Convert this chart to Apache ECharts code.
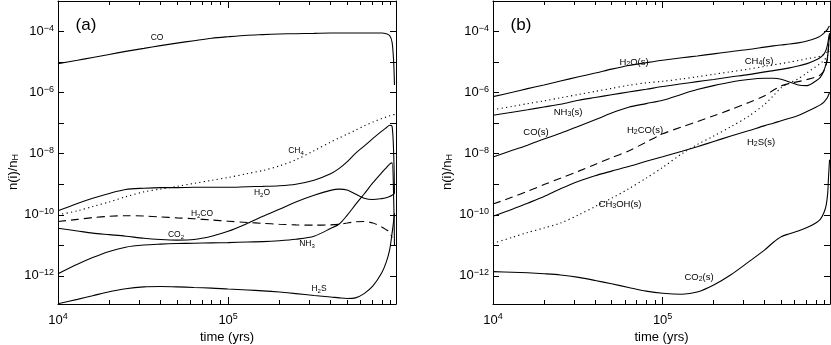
<!DOCTYPE html>
<html>
<head>
<meta charset="utf-8">
<script src="https://cdn.jsdelivr.net/npm/echarts@6/dist/echarts.min.js"></script>
<style>
  html, body { margin: 0; padding: 0; background: #fff; }
  #chart { width: 831px; height: 345px; }
</style>
</head>
<body>
<div id="chart"></div>
<script>
// time grid (yrs), shared by both panels
const times = [1.0e4, 1.3e4, 1.6e4, 2.0e4, 2.5e4, 3.2e4, 4.0e4, 5.0e4, 6.3e4, 8.0e4,
  1.0e5, 1.3e5, 1.6e5, 2.0e5, 2.5e5, 3.2e5, 4.0e5, 4.5e5, 5.0e5, 5.6e5,
  6.3e5, 7.1e5, 8.0e5, 8.5e5, 8.9e5, 9.2e5, 9.4e5, 9.5e5, 9.64e5];

// log10 n(i)/nH
// (a) gas phase
const coA   = [-5.05,-4.94,-4.85,-4.75,-4.65,-4.55,-4.46,-4.38,-4.30,-4.22,-4.17,-4.12,-4.10,-4.08,-4.07,-4.06,-4.05,-4.05,-4.05,-4.05,-4.05,-4.05,-4.05,-4.07,-4.13,-4.35,-5.0,-5.75,null];
const ch4A  = [-10.0,-9.87,-9.73,-9.58,-9.41,-9.25,-9.16,-9.07,-8.97,-8.87,-8.78,-8.65,-8.55,-8.40,-8.20,-7.90,-7.62,-7.48,-7.36,-7.23,-7.09,-6.96,-6.85,-6.80,-6.76,-6.73,-6.72,-6.72,null];
const h2oA  = [-9.87,-9.63,-9.46,-9.30,-9.17,-9.13,-9.11,-9.11,-9.10,-9.10,-9.10,-9.08,-9.07,-9.05,-9.00,-8.87,-8.66,-8.48,-8.27,-7.99,-7.75,-7.50,-7.26,-7.15,-7.07,-7.10,-8.0,-9.3,null];
const co2A  = [-10.44,-10.53,-10.60,-10.65,-10.70,-10.77,-10.81,-10.83,-10.81,-10.70,-10.54,-10.28,-10.05,-9.82,-9.58,-9.36,-9.20,-9.16,-9.19,-9.32,-9.46,-9.50,-9.47,-9.44,-9.40,-9.36,-9.32,-9.30,null];
const nh3A  = [-11.93,-11.62,-11.40,-11.20,-11.06,-10.99,-10.96,-10.94,-10.93,-10.92,-10.91,-10.89,-10.88,-10.85,-10.80,-10.70,-10.45,-10.30,-10.02,-9.67,-9.32,-8.95,-8.62,-8.46,-8.34,-8.30,-9.5,-11.0,null];
const h2coA = [-10.22,-10.15,-10.09,-10.05,-10.03,-10.04,-10.07,-10.10,-10.13,-10.17,-10.21,-10.25,-10.28,-10.31,-10.33,-10.34,-10.33,-10.31,-10.27,-10.23,-10.22,-10.27,-10.40,-10.49,-10.57,-10.75,null,null,null];
const h2sA  = [-12.91,-12.77,-12.65,-12.52,-12.42,-12.36,-12.35,-12.36,-12.38,-12.40,-12.43,-12.46,-12.49,-12.53,-12.58,-12.64,-12.69,-12.72,-12.74,-12.72,-12.58,-12.33,-11.90,-11.55,-11.15,-10.6,-10.2,-9.95,null];

// (b) grain mantles
const h2oB   = [-6.13,-5.99,-5.87,-5.75,-5.62,-5.48,-5.36,-5.23,-5.11,-5.02,-4.94,-4.86,-4.80,-4.73,-4.66,-4.59,-4.51,-4.47,-4.44,-4.41,-4.37,-4.31,-4.22,-4.15,-4.06,-3.98,-3.92,-3.86,-3.82];
const ch4B   = [-6.56,-6.45,-6.36,-6.27,-6.17,-6.06,-5.96,-5.86,-5.76,-5.68,-5.63,-5.55,-5.48,-5.40,-5.32,-5.23,-5.14,-5.09,-5.05,-5.00,-4.95,-4.89,-4.84,-4.80,-4.75,-4.70,-4.65,-4.62,-4.58];
const nh3B   = [-6.74,-6.64,-6.56,-6.47,-6.38,-6.25,-6.16,-6.07,-5.98,-5.89,-5.80,-5.71,-5.64,-5.57,-5.49,-5.41,-5.32,-5.28,-5.24,-5.19,-5.13,-5.05,-4.93,-4.85,-4.75,-4.60,-4.40,-4.25,-4.05];
const coB    = [-8.11,-7.89,-7.72,-7.52,-7.33,-7.10,-6.89,-6.67,-6.48,-6.36,-6.25,-6.05,-5.90,-5.77,-5.66,-5.57,-5.53,-5.53,-5.56,-5.65,-5.75,-5.77,-5.62,-5.50,-5.30,-5.05,-4.80,-4.50,-4.10];
const h2coB  = [-9.65,-9.42,-9.23,-9.01,-8.80,-8.57,-8.35,-8.13,-7.91,-7.62,-7.35,-7.12,-6.95,-6.76,-6.56,-6.33,-6.10,-5.92,-5.78,-5.70,-5.64,-5.57,-5.49,-5.42,-5.30,-5.10,-4.85,-4.55,-4.15];
const h2sB   = [-10.05,-9.82,-9.62,-9.40,-9.15,-8.90,-8.72,-8.57,-8.42,-8.25,-8.10,-7.92,-7.77,-7.60,-7.43,-7.25,-7.08,-7.00,-6.92,-6.84,-6.75,-6.62,-6.48,-6.40,-6.32,-6.22,-6.14,-6.08,-6.00];
const ch3ohB = [-10.93,-10.74,-10.58,-10.43,-10.27,-10.00,-9.73,-9.46,-9.15,-8.80,-8.45,-8.00,-7.70,-7.42,-7.13,-6.78,-6.38,-6.10,-5.84,-5.68,-5.55,-5.35,-5.15,-5.05,-4.95,-4.86,-4.78,-4.72,-4.65];
const co2B   = [-11.86,-11.88,-11.90,-11.93,-11.97,-12.05,-12.15,-12.26,-12.38,-12.50,-12.57,-12.60,-12.53,-12.30,-11.98,-11.55,-11.15,-10.90,-10.72,-10.62,-10.53,-10.42,-10.27,-10.15,-9.95,-9.70,-9.30,-8.80,-8.20];

// tick values
const xMajor = [1e4, 1e5];
const xMinor = [2e4, 3e4, 4e4, 5e4, 6e4, 7e4, 8e4, 9e4, 2e5, 3e5, 4e5, 5e5, 6e5, 7e5, 8e5, 9e5];
const yLabels = [1e-12, 1e-10, 1e-8, 1e-6, 1e-4];
const yTicks = [1e-12, 1e-11, 1e-10, 1e-9, 1e-8, 1e-7, 1e-6, 1e-5, 1e-4];

const X_MIN = 1e4, X_MAX = 9.7e5, Y_MIN = 1.2e-13, Y_MAX = 1e-3;
const FONT = 'Liberation Sans, Arial, Helvetica, sans-serif';

const chart = echarts.init(document.getElementById('chart'));

function toPairs(logs) {
  const out = [];
  logs.forEach((v, i) => { if (v != null) out.push([times[i], Math.pow(10, v)]); });
  return out;
}

const powRich = {
  b: { fontSize: 13, fontFamily: FONT, color: '#000' },
  s: { fontSize: 9, fontFamily: FONT, color: '#000', verticalAlign: 'top', padding: [0, 0, 7, 0] }
};
function powLabel(v) {
  const e = Math.round(Math.log10(v));
  return '{b|10}{s|' + String(e).replace('-', '\u2212') + '}';
}

const grids = [
  { left: 58, top: 1, width: 338, height: 303 },
  { left: 493, top: 1, width: 337, height: 303 }
];

// tick-only helper axes live in log10 space (value type)
function tickAxisX(gi, pos, vals, len, showLine) {
  return {
    type: 'value', gridIndex: gi, position: pos,
    min: Math.log10(X_MIN), max: Math.log10(X_MAX),
    axisLine: { show: showLine, lineStyle: { color: '#000', width: 1 } },
    axisTick: { show: true, inside: true, length: len, customValues: vals.map(Math.log10), lineStyle: { color: '#000' } },
    axisLabel: { show: false }, splitLine: { show: false }
  };
}
function tickAxisY(gi, pos, showLine) {
  return {
    type: 'value', gridIndex: gi, position: pos,
    min: Math.log10(Y_MIN), max: Math.log10(Y_MAX),
    axisLine: { show: showLine, lineStyle: { color: '#000', width: 1 } },
    axisTick: { show: true, inside: true, length: 6, customValues: yTicks.map(Math.log10), lineStyle: { color: '#000' } },
    axisLabel: { show: false }, splitLine: { show: false }
  };
}

const xAxes = [], yAxes = [];
grids.forEach((g, gi) => {
  xAxes.push({
    type: 'log', logBase: 10, min: X_MIN, max: X_MAX, gridIndex: gi, position: 'bottom',
    axisLine: { show: true, lineStyle: { color: '#000', width: 1 } },
    axisTick: { show: false }, splitLine: { show: false },
    axisLabel: { customValues: xMajor, formatter: powLabel, rich: powRich, margin: 8 },
    name: 'time (yrs)', nameLocation: 'middle', nameGap: 27,
    nameTextStyle: { fontSize: 13, fontFamily: FONT, color: '#000' }
  });
  xAxes.push(tickAxisX(gi, 'bottom', xMajor, 7, false));
  xAxes.push(tickAxisX(gi, 'bottom', xMinor, 4, false));
  xAxes.push(tickAxisX(gi, 'top', xMajor, 7, true));
  xAxes.push(tickAxisX(gi, 'top', xMinor, 4, false));

  yAxes.push({
    type: 'log', logBase: 10, min: Y_MIN, max: Y_MAX, gridIndex: gi, position: 'left',
    axisLine: { show: true, lineStyle: { color: '#000', width: 1 } },
    axisTick: { show: false }, splitLine: { show: false },
    axisLabel: { customValues: yLabels, formatter: powLabel, rich: powRich, margin: 4 }
  });
  yAxes.push(tickAxisY(gi, 'left', false));
  yAxes.push(tickAxisY(gi, 'right', true));
});

const SOLID = 'solid', DOT = [1.2, 3.2], DASH = [8, 5];
function line(logs, panel, type) {
  return {
    type: 'line', xAxisIndex: panel * 5, yAxisIndex: panel * 3,
    data: toPairs(logs), showSymbol: false, symbol: 'none', smooth: 0.3,
    lineStyle: { color: '#000', width: 1.1, type: type },
    silent: true, animation: false
  };
}

const series = [
  line(coA, 0, SOLID), line(ch4A, 0, DOT), line(h2oA, 0, SOLID), line(co2A, 0, SOLID),
  line(nh3A, 0, SOLID), line(h2coA, 0, DASH), line(h2sA, 0, SOLID),
  line(h2oB, 1, SOLID), line(ch4B, 1, DOT), line(nh3B, 1, SOLID), line(coB, 1, SOLID),
  line(h2coB, 1, DASH), line(h2sB, 1, SOLID), line(ch3ohB, 1, DOT), line(co2B, 1, SOLID)
];

// curve labels
const subRich = (fs) => ({ d: { fontSize: Math.round(fs * 0.7), fontFamily: FONT, fill: '#000', padding: [5, 0, 0, 0] } });
function lab(text, x, y, fs) {
  return {
    type: 'text', x: x, y: y, silent: true,
    style: { text: text, fontSize: fs, fontFamily: FONT, fill: '#000', align: 'center', verticalAlign: 'middle', rich: subRich(fs) }
  };
}
const nameRich = { d: { fontSize: 9, fontFamily: FONT, fill: '#000', padding: [6, 0, 0, 0] } };
function yName(x) {
  return {
    type: 'text', x: x, y: 172, rotation: Math.PI / 2, silent: true,
    style: { text: 'n(i)/n{d|H}', fontSize: 13, fontFamily: FONT, fill: '#000', align: 'center', verticalAlign: 'middle', rich: nameRich }
  };
}

const graphic = [
  { type: 'text', x: 86, y: 25, silent: true, style: { text: '(a)', fontSize: 17, fontFamily: FONT, fill: '#000', align: 'center', verticalAlign: 'middle' } },
  { type: 'text', x: 521, y: 25, silent: true, style: { text: '(b)', fontSize: 17, fontFamily: FONT, fill: '#000', align: 'center', verticalAlign: 'middle' } },
  yName(13), yName(447),
  lab('CO', 157, 38, 8.5),
  lab('CH{d|4}', 296, 151, 8.5),
  lab('H{d|2}O', 262, 193, 8.5),
  lab('H{d|2}CO', 202, 214, 8.5),
  lab('CO{d|2}', 176, 235, 8.5),
  lab('NH{d|3}', 307, 244, 8.5),
  lab('H{d|2}S', 319, 289, 8.5),
  lab('H{d|2}O(s)', 634, 62, 9.5),
  lab('CH{d|4}(s)', 759, 61, 9.5),
  lab('NH{d|3}(s)', 568, 112, 9.5),
  lab('CO(s)', 536, 132, 9.5),
  lab('H{d|2}CO(s)', 645, 130, 9.5),
  lab('H{d|2}S(s)', 761, 142, 9.5),
  lab('CH{d|3}OH(s)', 620, 204, 9.5),
  lab('CO{d|2}(s)', 699, 277, 9.5)
];

chart.setOption({
  backgroundColor: '#fff',
  animation: false,
  grid: grids.map(g => Object.assign({ outerBoundsMode: 'none', containLabel: false }, g)),
  xAxis: xAxes,
  yAxis: yAxes,
  series: series,
  graphic: graphic
});
</script>
</body>
</html>
